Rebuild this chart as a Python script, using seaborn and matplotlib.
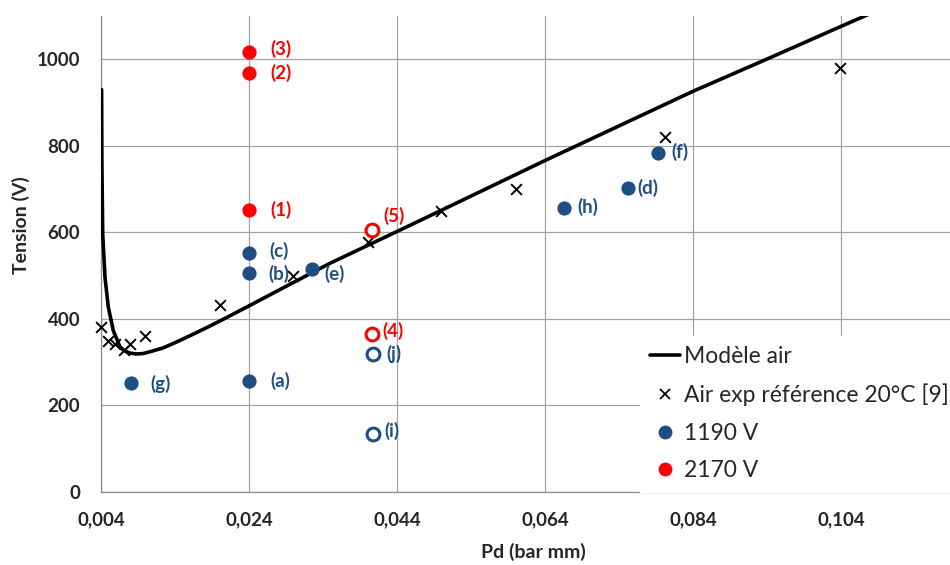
# -*- coding: utf-8 -*-

"""Tension de claquage en fonction de Pd : modèle air, référence et mesures."""

import matplotlib.pyplot as plt
import seaborn as sns
from matplotlib.lines import Line2D

# Courbe du modèle air
model_pd = [0.00408, 0.00412, 0.00423, 0.00454, 0.00499, 0.00566, 0.00657, 0.0072,
            0.00792, 0.0088, 0.0097, 0.0108, 0.0124, 0.0140, 0.0160, 0.0183,
            0.0205, 0.0241, 0.0282, 0.0350, 0.0440, 0.0500, 0.0640, 0.0840,
            0.0946, 0.1040, 0.1100]
model_v = [930, 760, 597, 496, 427, 373, 335, 326,
           321, 319, 320, 325, 333, 345, 361, 380,
           399, 431, 468, 529, 602, 651, 766, 926,
           1005, 1076, 1121]

# Air exp référence 20°C [9]
ref_pd = [0.0040, 0.0049, 0.0059, 0.0071, 0.0079, 0.0099, 0.0201, 0.0300,
          0.0401, 0.0500, 0.0601, 0.0802, 0.1039]
ref_v = [381, 349, 343, 329, 341, 360, 431, 500, 577, 650, 700, 821, 979]

# 1190 V
blue_pd = [0.0081, 0.024, 0.024, 0.024, 0.0325, 0.0666, 0.0752, 0.0793]
blue_v = [251, 256, 507, 553, 515, 657, 702, 784]
blue_labels = ['(g)', '(a)', '(b)', '(c)', '(e)', '(h)', '(d)', '(f)']
blue_open_pd = [0.0407, 0.0407]
blue_open_v = [320, 135]
blue_open_labels = ['(j)', '(i)']

# 2170 V
red_pd = [0.024, 0.024, 0.024]
red_v = [652, 968, 1017]
red_labels = ['(1)', '(2)', '(3)']
red_open_pd = [0.0406, 0.0406]
red_open_v = [366, 606]
red_open_labels = ['(4)', '(5)']

x_ticks = [0.004, 0.024, 0.044, 0.064, 0.084, 0.104]
x_tick_labels = ['0,004', '0,024', '0,044', '0,064', '0,084', '0,104']
y_ticks = [0, 200, 400, 600, 800, 1000]

# label offsets in pixels (dx, dy)
offsets = {
    '(g)': (19, -1), '(a)': (21, 0), '(b)': (19, -1), '(c)': (20, 2),
    '(e)': (12, -5), '(h)': (13, 1), '(d)': (9, 0), '(f)': (13, 1),
    '(j)': (14, 0), '(i)': (12, 3),
    '(1)': (21, 0), '(2)': (21, 0), '(3)': (21, 3),
    '(4)': (11, 3), '(5)': (12, 14),
}

BLUE = '#1f4e85'
RED = '#ff0000'
GRID = '#a3a3a3'


def main():
    sns.set_style('white')
    plt.rcParams['font.family'] = ['Lato', 'DejaVu Sans']

    fig = plt.figure(figsize=(9.5, 5.65), dpi=100)
    ax = fig.add_axes([101 / 950, 1 - 492 / 565, 849 / 950, 476 / 565])

    sns.lineplot(x=model_pd, y=model_v, sort=False, estimator=None, color='black',
                 lw=2.6, ax=ax, zorder=4)
    sns.scatterplot(x=ref_pd, y=ref_v, marker='x', color='black', s=60,
                    linewidth=1.4, ax=ax, zorder=5, clip_on=False)
    sns.scatterplot(x=blue_pd, y=blue_v, color=BLUE, s=105, linewidth=0, ax=ax, zorder=5)
    sns.scatterplot(x=blue_open_pd, y=blue_open_v, facecolor='white', edgecolor=BLUE,
                    s=85, linewidth=2.2, ax=ax, zorder=5)
    sns.scatterplot(x=red_pd, y=red_v, color=RED, s=105, linewidth=0, ax=ax, zorder=5)
    sns.scatterplot(x=red_open_pd, y=red_open_v, facecolor='white', edgecolor=RED,
                    s=85, linewidth=2.2, ax=ax, zorder=5)

    groups = [
        (blue_pd, blue_v, blue_labels, BLUE),
        (blue_open_pd, blue_open_v, blue_open_labels, BLUE),
        (red_pd, red_v, red_labels, RED),
        (red_open_pd, red_open_v, red_open_labels, RED),
    ]
    for xs, ys, labels, color in groups:
        for x, y, lab in zip(xs, ys, labels):
            ax.annotate(lab, (x, y), xytext=offsets[lab], textcoords='offset pixels',
                        ha='left', va='center', color=color, fontsize=13.5,
                        fontweight='bold', zorder=6)

    ax.set_xlim(0.004, 0.004 + 849 / 7400)
    ax.set_ylim(0, 1100)
    ax.set_xticks(x_ticks)
    ax.set_xticklabels(x_tick_labels)
    ax.set_yticks(y_ticks)
    ax.grid(True, color=GRID, lw=0.9)
    ax.set_axisbelow(True)
    for side in ['top', 'right']:
        ax.spines[side].set_visible(False)
    for side in ['left', 'bottom']:
        ax.spines[side].set_color('#8c8c8c')
        ax.spines[side].set_linewidth(0.9)
    ax.tick_params(axis='both', length=5, width=0.9, color=GRID, direction='out',
                   labelsize=13.5)
    ax.tick_params(axis='x', pad=9)
    ax.tick_params(axis='y', pad=10)
    for lab in ax.get_xticklabels() + ax.get_yticklabels():
        lab.set_fontweight('bold')

    ax.set_xlabel('Pd (bar mm)', fontsize=14, fontweight='bold')
    ax.set_ylabel('Tension (V)', fontsize=14, fontweight='bold')
    ax.xaxis.set_label_coords((533 - 101) / 849, -(543 - 492) / 476)
    ax.yaxis.set_label_coords((30 - 101) / 849, (492 - 225) / 476)

    handles = [
        Line2D([], [], color='black', lw=2.6, label='Modèle air'),
        Line2D([], [], marker='x', ls='none', color='black', ms=7, mew=1.3,
               label='Air exp référence 20°C [9]'),
        Line2D([], [], marker='o', ls='none', color=BLUE, ms=10, mew=0, label='1190 V'),
        Line2D([], [], marker='o', ls='none', color=RED, ms=10, mew=0, label='2170 V'),
    ]
    leg = ax.legend(handles=handles, loc='upper left', bbox_to_anchor=(640 / 950, 1 - 336 / 565),
                    bbox_transform=fig.transFigure, fontsize=16.5, frameon=True,
                    fancybox=False, borderpad=0.45, borderaxespad=0, handlelength=1.3,
                    handletextpad=0.15, labelspacing=0.72)
    leg.get_frame().set_facecolor('white')
    leg.get_frame().set_edgecolor('white')
    leg.get_frame().set_alpha(1)
    leg.set_zorder(10)

    fig.savefig('out.png', dpi=100)


if __name__ == '__main__':
    main()
